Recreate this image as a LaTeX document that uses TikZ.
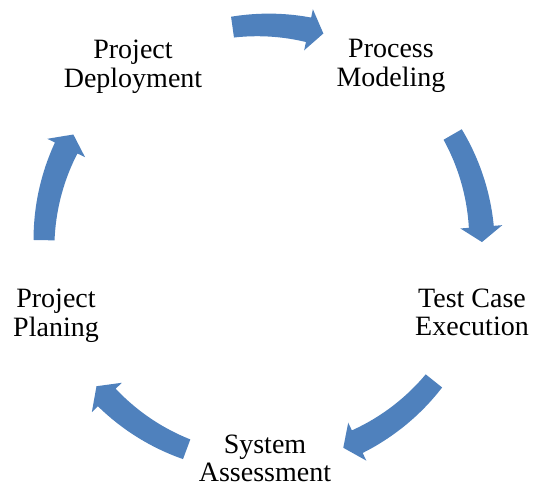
\documentclass[tikz,border=0pt]{standalone}
\usepackage{fontspec}
\setmainfont{Liberation Serif}
\definecolor{arrowblue}{HTML}{4F81BD}
\newcommand\twolines[2]{\begin{tabular}[t]{@{}c@{}}#1\\#2\end{tabular}}
\begin{document}
\begin{tikzpicture}[x=1pt,y=1pt,
  lbl/.style={inner sep=0pt, anchor=base, font=\fontsize{28}{28.5}\selectfont},
  cyc/.style={fill=arrowblue}]
\useasboundingbox (0,0) rectangle (533,488);
\coordinate (c) at (263,244);
\node[lbl] (n1) at (133,429) {\twolines{Project}{Deployment}};
\node[lbl] (n2) at (391,430) {\twolines{Process}{Modeling}};
\node[lbl] (n3) at (472,181) {\twolines{Test Case}{Execution}};
\node[lbl, text depth=30pt] (n4) at (265,35) {\twolines{System}{Assessment}};
\node[lbl] (n5) at (56,180) {\twolines{Project}{Planing}};
\begin{scope}[shift={(c)}]
\foreach \a/\b in {98/74, 30/0.5, -38.7/-68.5, -110.4/-139.5, -181/-210}{
  \pgfmathsetmacro\bh{\b+4}
  \fill[cyc] plot[domain=\a:\bh, samples=30] (\x:{219+10.5+2*(\a-\x)/(\a-\bh)})
    -- (\bh:240) -- (\b:219) -- (\bh:198)
    -- plot[domain=\bh:\a, samples=30] (\x:{219-10.5-2*(\a-\x)/(\a-\bh)}) -- cycle;
}
\end{scope}
\end{tikzpicture}
\end{document}
